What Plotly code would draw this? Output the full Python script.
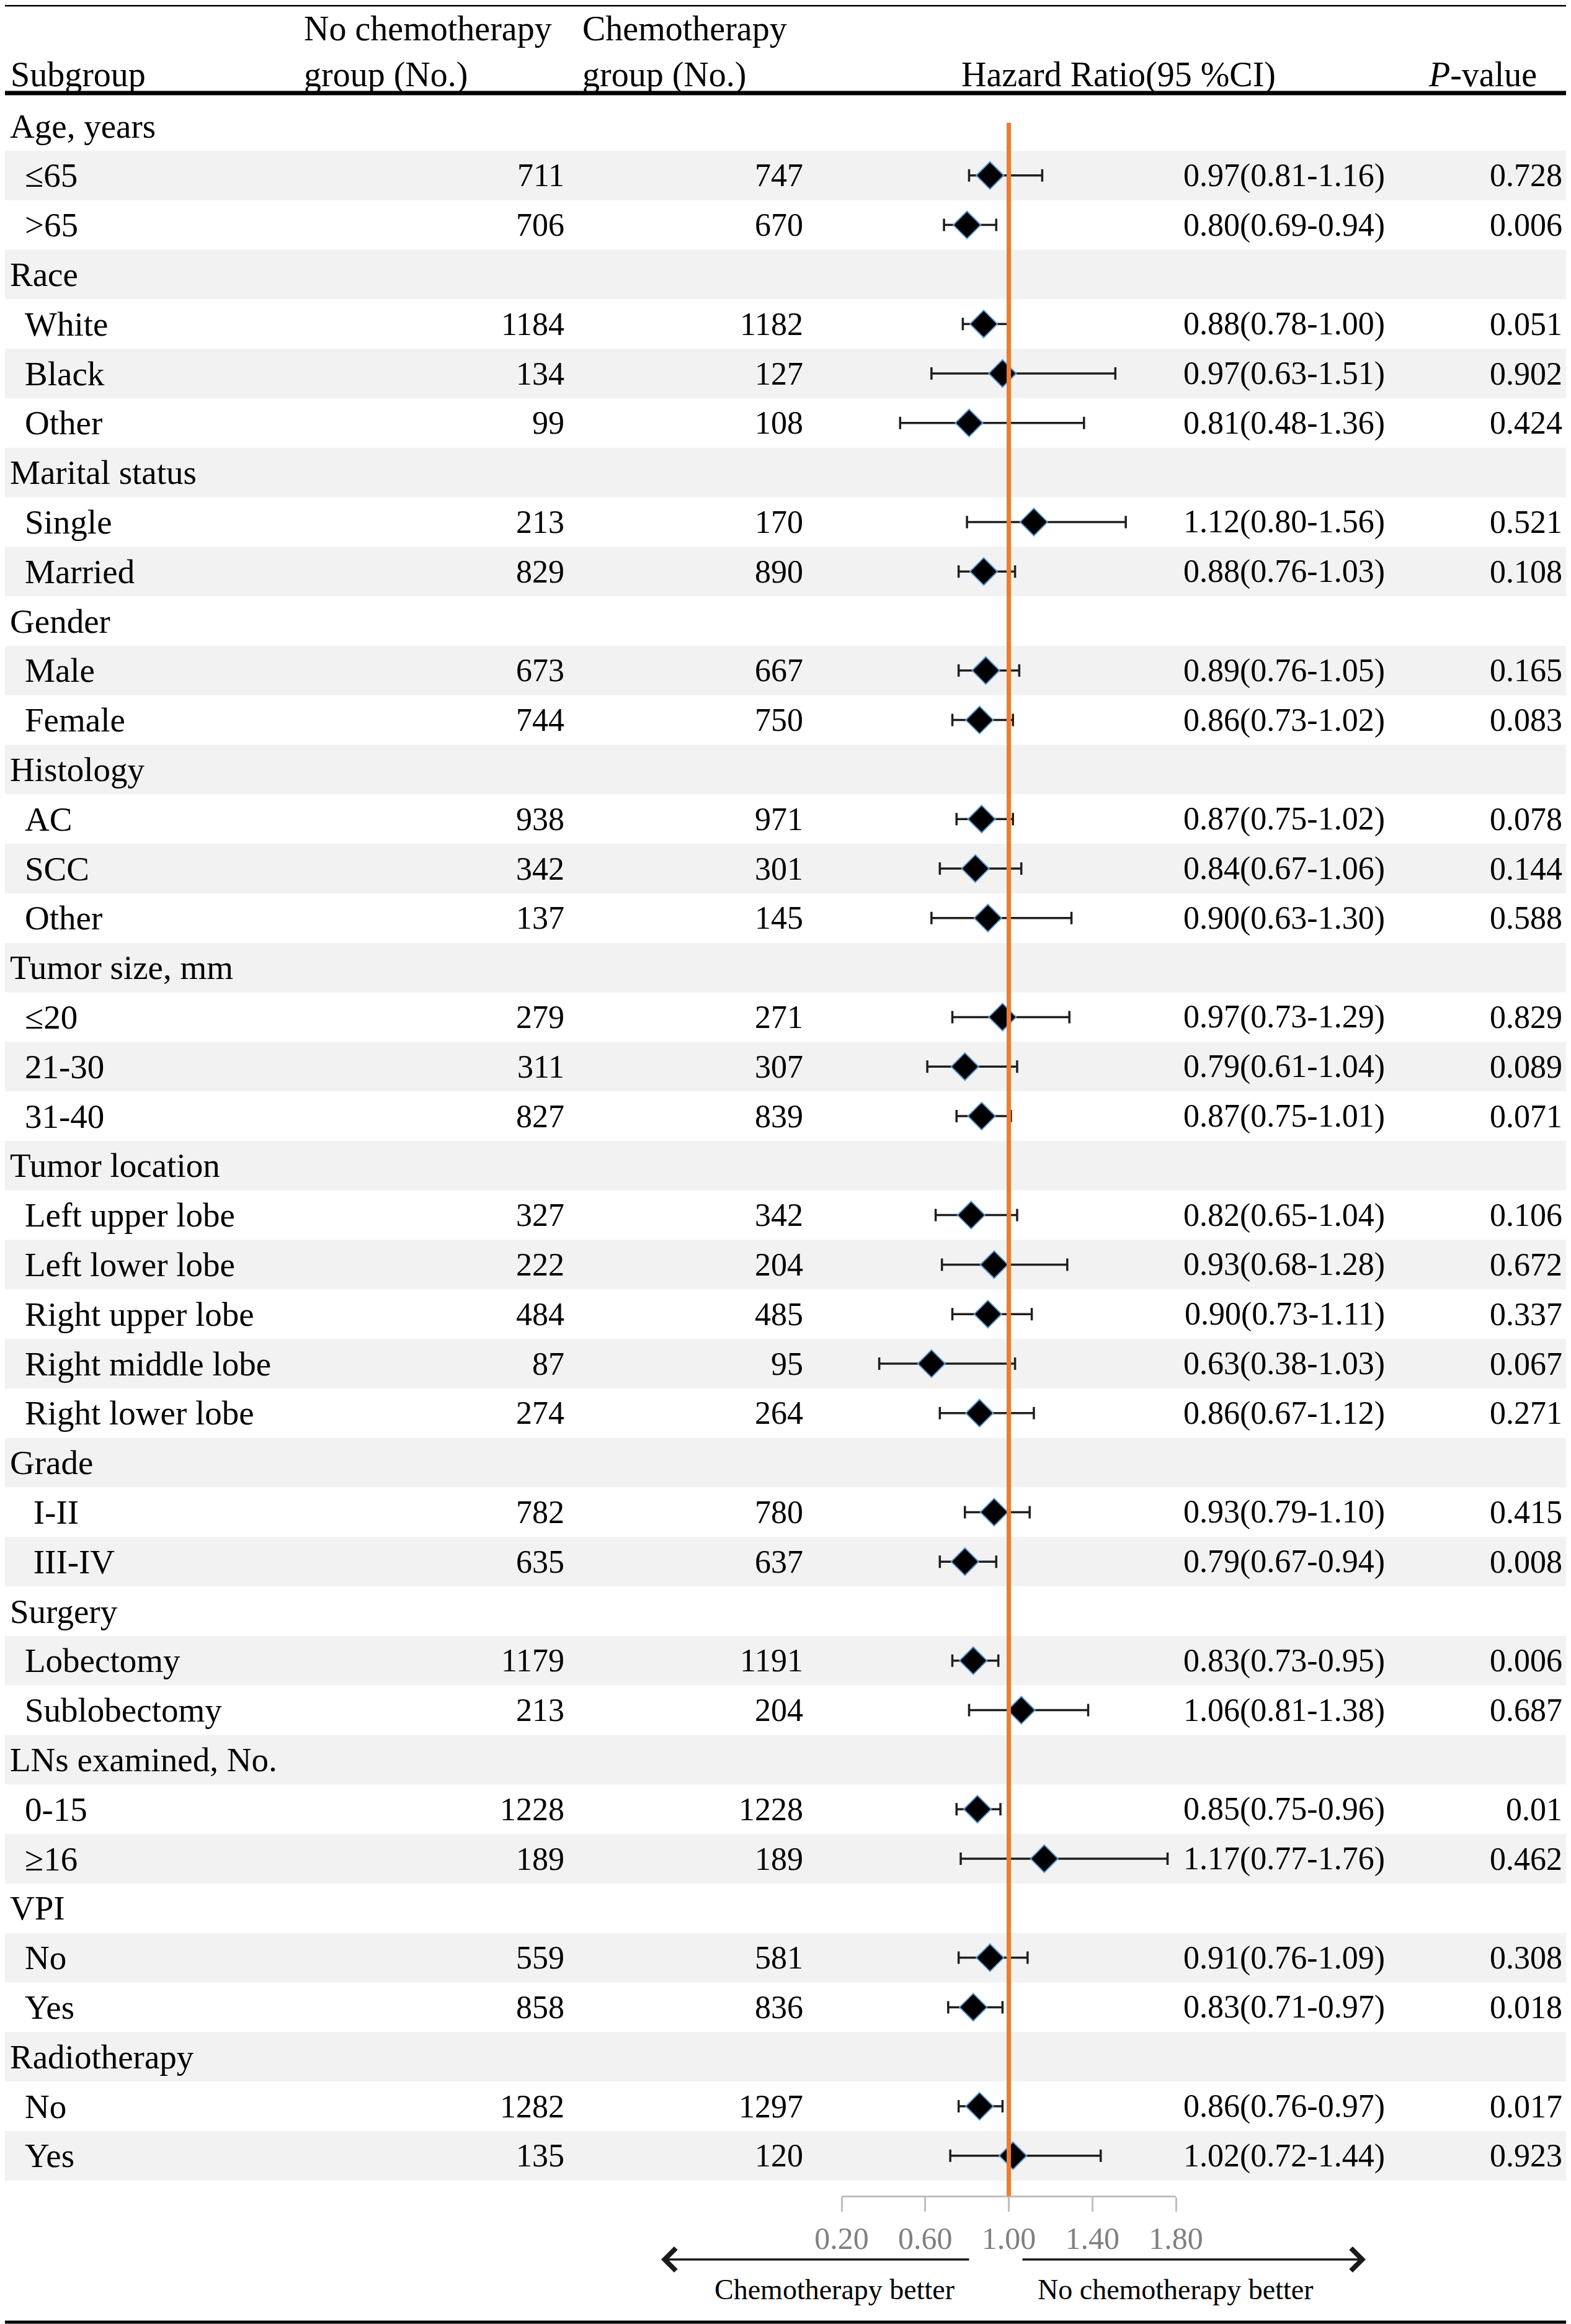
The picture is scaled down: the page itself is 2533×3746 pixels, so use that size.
import plotly.graph_objects as go

W, H = 2533, 3746

# table rows (None = group header row)
row_labels = ["Age, years", "≤65", ">65",
              "Race", "White", "Black", "Other",
              "Marital status", "Single", "Married",
              "Gender", "Male", "Female",
              "Histology", "AC", "SCC", "Other",
              "Tumor size, mm", "≤20", "21-30", "31-40",
              "Tumor location", "Left upper lobe", "Left lower lobe", "Right upper lobe",
              "Right middle lobe", "Right lower lobe",
              "Grade", "\u00a0I-II", "\u00a0III-IV",
              "Surgery", "Lobectomy", "Sublobectomy",
              "LNs examined, No.", "0-15", "≥16",
              "VPI", "No", "Yes",
              "Radiotherapy", "No", "Yes"]
n_no = [None, 711, 706, None, 1184, 134, 99, None, 213, 829, None, 673, 744,
        None, 938, 342, 137, None, 279, 311, 827, None, 327, 222, 484, 87, 274,
        None, 782, 635, None, 1179, 213, None, 1228, 189, None, 559, 858, None, 1282, 135]
n_chemo = [None, 747, 670, None, 1182, 127, 108, None, 170, 890, None, 667, 750,
           None, 971, 301, 145, None, 271, 307, 839, None, 342, 204, 485, 95, 264,
           None, 780, 637, None, 1191, 204, None, 1228, 189, None, 581, 836, None, 1297, 120]
hr = [None, 0.97, 0.80, None, 0.88, 0.97, 0.81, None, 1.12, 0.88, None, 0.89, 0.86,
      None, 0.87, 0.84, 0.90, None, 0.97, 0.79, 0.87, None, 0.82, 0.93, 0.90, 0.63, 0.86,
      None, 0.93, 0.79, None, 0.83, 1.06, None, 0.85, 1.17, None, 0.91, 0.83, None, 0.86, 1.02]
ci_low = [None, 0.81, 0.69, None, 0.78, 0.63, 0.48, None, 0.80, 0.76, None, 0.76, 0.73,
          None, 0.75, 0.67, 0.63, None, 0.73, 0.61, 0.75, None, 0.65, 0.68, 0.73, 0.38, 0.67,
          None, 0.79, 0.67, None, 0.73, 0.81, None, 0.75, 0.77, None, 0.76, 0.71, None, 0.76, 0.72]
ci_high = [None, 1.16, 0.94, None, 1.00, 1.51, 1.36, None, 1.56, 1.03, None, 1.05, 1.02,
           None, 1.02, 1.06, 1.30, None, 1.29, 1.04, 1.01, None, 1.04, 1.28, 1.11, 1.03, 1.12,
           None, 1.10, 0.94, None, 0.95, 1.38, None, 0.96, 1.76, None, 1.09, 0.97, None, 0.97, 1.44]
# diamond positions as drawn (the <=65 diamond sits left of its printed HR)
hr_mark = [None, 0.91, 0.80, None, 0.88, 0.97, 0.81, None, 1.12, 0.88, None, 0.89, 0.86,
           None, 0.87, 0.84, 0.90, None, 0.97, 0.79, 0.87, None, 0.82, 0.93, 0.90, 0.63, 0.86,
           None, 0.93, 0.79, None, 0.83, 1.06, None, 0.85, 1.17, None, 0.91, 0.83, None, 0.86, 1.02]
p_values = [None, "0.728", "0.006", None, "0.051", "0.902", "0.424", None, "0.521", "0.108",
            None, "0.165", "0.083", None, "0.078", "0.144", "0.588", None, "0.829", "0.089",
            "0.071", None, "0.106", "0.672", "0.337", "0.067", "0.271", None, "0.415", "0.008",
            None, "0.006", "0.687", None, "0.01", "0.462", None, "0.308", "0.018", None, "0.017", "0.923"]
tick_vals = [0.2, 0.6, 1.0, 1.4, 1.8]

FONT = "Liberation Serif"
ROW0, ROWH = 203, 79.8  # pixel centre of first row, row pitch
OFF = 8                 # page body margin


def px(x):
    return (x - OFF) / W


def py(y):
    return 1 - (y - OFF) / H


rows = list(range(len(row_labels)))
data_rows = [i for i in rows if n_no[i] is not None]

fig = go.Figure()

fig.add_trace(go.Scatter(
    x=[hr_mark[i] for i in data_rows],
    y=data_rows,
    mode="markers",
    marker=dict(symbol="diamond", size=34, color="black",
                line=dict(color="#5b9bd5", width=2)),
    error_x=dict(type="data", symmetric=False,
                 array=[ci_high[i] - hr_mark[i] for i in data_rows],
                 arrayminus=[hr_mark[i] - ci_low[i] for i in data_rows],
                 color="#1f1f1f", thickness=3.5, width=10),
    cliponaxis=False,
    showlegend=False,
    hoverinfo="skip",
))

shapes = []
for i in rows:
    if i % 2 == 1:
        shapes.append(dict(type="rect", xref="paper", yref="y", x0=0, x1=1,
                           y0=i - 0.5, y1=i + 0.5, fillcolor="#f2f2f2",
                           line=dict(width=0), layer="below"))
# frame lines and header rule
shapes.append(dict(type="line", xref="paper", yref="paper", x0=0, x1=1,
                   y0=1, y1=1, line=dict(color="black", width=5)))
shapes.append(dict(type="line", xref="paper", yref="paper", x0=0, x1=1,
                   y0=py(150), y1=py(150), line=dict(color="black", width=7)))
shapes.append(dict(type="line", xref="paper", yref="paper", x0=0, x1=1,
                   y0=py(3743), y1=py(3743), line=dict(color="black", width=5)))
# reference line at HR = 1
shapes.append(dict(type="line", xref="x", yref="paper", x0=1, x1=1,
                   y0=py(198), y1=py(3540), line=dict(color="#ed7d31", width=7)))

ann = []


def txt(x, y, s, anchor, size=52, yref="y"):
    ann.append(dict(x=x, y=y, xref="paper", yref=yref, text=s, showarrow=False,
                    xanchor=anchor, yanchor="middle",
                    font=dict(family=FONT, size=size, color="black")))


# header
txt(px(15), py(120), "Subgroup", "left", 56, "paper")
txt(px(488), py(46), "No chemotherapy", "left", 56, "paper")
txt(px(488), py(120), "group (No.)", "left", 56, "paper")
txt(px(937), py(46), "Chemotherapy", "left", 56, "paper")
txt(px(937), py(120), "group (No.)", "left", 56, "paper")
txt(px(1548), py(120), "Hazard Ratio(95 %CI)", "left", 56, "paper")
txt(px(2480), py(120), "<i>P</i>-value", "right", 56, "paper")

for i in rows:
    if n_no[i] is None:
        txt(px(14), i, row_labels[i], "left", 55)
    else:
        txt(px(38), i, row_labels[i], "left", 55)
        txt(px(912), i, str(n_no[i]), "right")
        txt(px(1297), i, str(n_chemo[i]), "right")
        txt(px(2235), i, f"{hr[i]:.2f}({ci_low[i]:.2f}-{ci_high[i]:.2f})", "right")
        txt(px(2521), i, p_values[i], "right")

# direction arrows and captions
ann.append(dict(x=px(1066), y=py(3642), xref="paper", yref="paper", text="",
                showarrow=True, ax=498, ay=0, arrowhead=4, arrowsize=2.0,
                arrowwidth=3.5, arrowcolor="#1a1a1a", standoff=0, startstandoff=0))
ann.append(dict(x=px(2202), y=py(3642), xref="paper", yref="paper", text="",
                showarrow=True, ax=-555, ay=0, arrowhead=4, arrowsize=2.0,
                arrowwidth=3.5, arrowcolor="#1a1a1a", standoff=0, startstandoff=0))
txt(px(1345), py(3690), "Chemotherapy better", "center", 46, "paper")
txt(px(1895), py(3690), "No chemotherapy better", "center", 46, "paper")

# y axis in row units, mapped so row i sits at screen pixel ROW0 + ROWH * i
y_top = -(ROW0 - OFF) / ROWH
y_bot = (H - (ROW0 - OFF)) / ROWH

fig.update_layout(
    width=W, height=H, autosize=False,
    margin=dict(l=0, r=0, t=0, b=0, pad=0, autoexpand=False),
    paper_bgcolor="white", plot_bgcolor="rgba(0,0,0,0)",
    font=dict(family=FONT, color="black"),
    shapes=shapes, annotations=ann,
    xaxis=dict(domain=[px(1357), px(1896)], range=[0.2, 1.8],
               anchor="free", position=py(3540),
               showline=True, linecolor="#bfbfbf", linewidth=3,
               ticks="outside", ticklen=23, tickwidth=3, tickcolor="#bfbfbf",
               tickvals=tick_vals, ticktext=[f"{v:.2f}" for v in tick_vals],
               tickfont=dict(family=FONT, size=50, color="#808080"),
               showgrid=False, zeroline=False, fixedrange=True),
    yaxis=dict(domain=[0, 1], range=[y_bot, y_top], visible=False,
               showgrid=False, zeroline=False, fixedrange=True),
)

fig.write_html("out.html")
